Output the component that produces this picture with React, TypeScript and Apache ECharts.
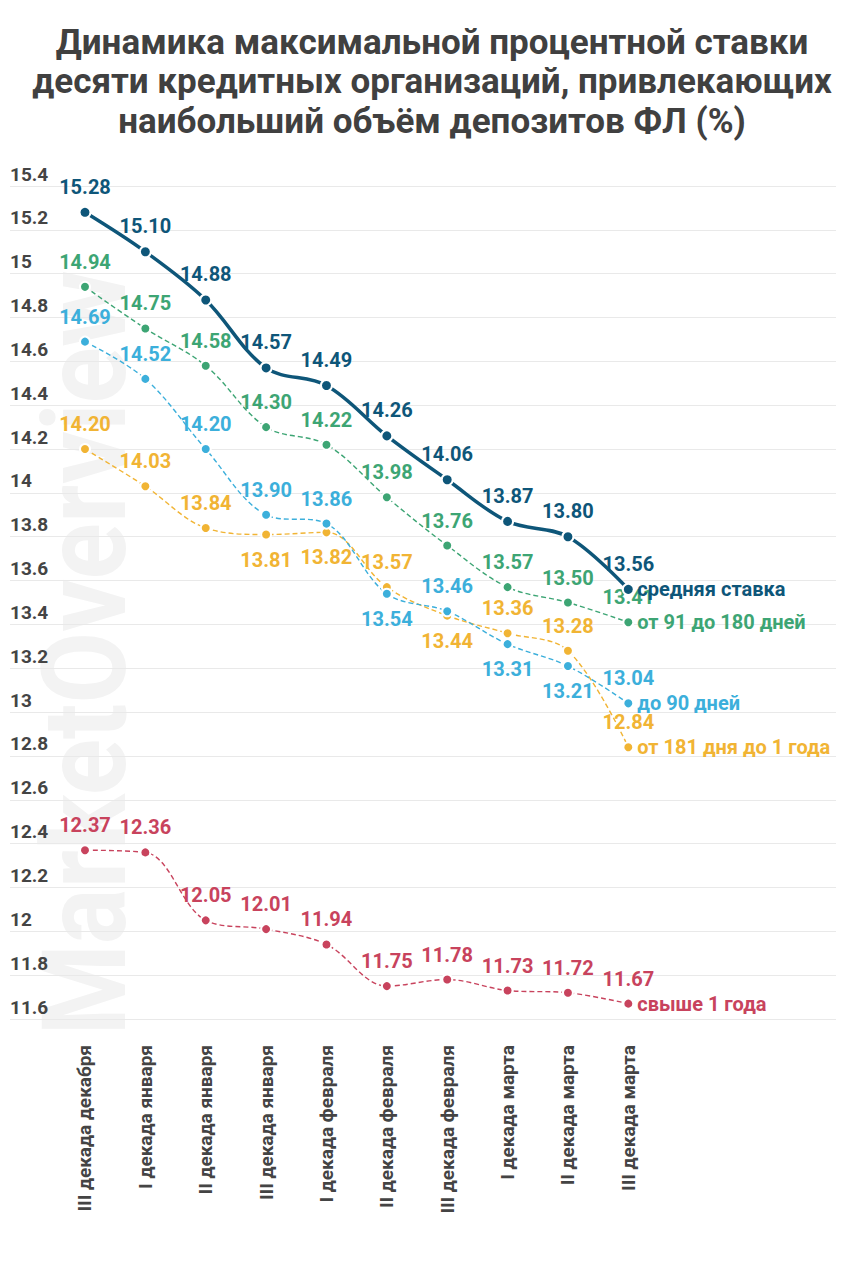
import React, { useEffect, useRef } from "react";
import * as echarts from "echarts";

const titleLines = [
  "Динамика максимальной процентной ставки",
  "десяти кредитных организаций, привлекающих",
  "наибольший объём депозитов ФЛ (%)",
];

const categories = [
  "III декада декабря",
  "I декада января",
  "II декада января",
  "III декада января",
  "I декада февраля",
  "II декада февраля",
  "III декада февраля",
  "I декада марта",
  "II декада марта",
  "III декада марта",
];

const avgRate = [15.28, 15.1, 14.88, 14.57, 14.49, 14.26, 14.06, 13.87, 13.8, 13.56];
const rate91to180 = [14.94, 14.75, 14.58, 14.3, 14.22, 13.98, 13.76, 13.57, 13.5, 13.41];
const rateTo90 = [14.69, 14.52, 14.2, 13.9, 13.86, 13.54, 13.46, 13.31, 13.21, 13.04];
const rate181to1y = [14.2, 14.03, 13.84, 13.81, 13.82, 13.57, 13.44, 13.36, 13.28, 12.84];
const rateOver1y = [12.37, 12.36, 12.05, 12.01, 11.94, 11.75, 11.78, 11.73, 11.72, 11.67];

const seriesNames = [
  "средняя ставка",
  "от 91 до 180 дней",
  "до 90 дней",
  "от 181 дня до 1 года",
  "свыше 1 года",
];

// label placement (indices whose value label sits below the point)
const belowTo90 = [5, 7, 8];
const below181 = [3, 4, 6];

const Y_MIN = 11.6;
const Y_MAX = 15.4;
const Y_STEP = 0.2;

const FONT = "Roboto, 'Noto Sans', sans-serif";

function makeSeries(
  name: string,
  data: number[],
  color: string,
  main: boolean,
  below: number[] = []
) {
  return {
    type: "line",
    name,
    xAxisIndex: 0,
    yAxisIndex: 0,
    data: data.map((v, i) =>
      below.includes(i) ? { value: v, label: { position: "bottom" } } : v
    ),
    smooth: 0.35,
    symbol: "circle",
    symbolSize: main ? 11 : 10,
    z: main ? 10 : 5,
    lineStyle: {
      color,
      width: main ? 3.5 : 1.4,
      type: main ? "solid" : [5, 3],
    },
    itemStyle: { color, borderColor: "#fff", borderWidth: 2 },
    label: {
      show: true,
      position: "top",
      distance: 9,
      color,
      fontFamily: FONT,
      fontWeight: "bold",
      fontSize: 20,
      formatter: (p: any) => Number(p.value).toFixed(2),
    },
    endLabel: {
      show: true,
      formatter: "{a}",
      color,
      fontFamily: FONT,
      fontWeight: "bold",
      fontSize: 20,
      distance: 9,
    },
    emphasis: { disabled: true },
  };
}

export default function App() {
  const ref = useRef<HTMLDivElement>(null);
  useEffect(() => {
    if (!ref.current) return;
    const chart = echarts.init(ref.current, null, { renderer: "svg" });
    const gridTop = 186;
    const gridBottom = 261;
    const option: any = {
      animation: false,
      backgroundColor: "#ffffff",
      graphic: [
        {
          type: "text",
          x: 86,
          y: 653,
          rotation: Math.PI / 2,
          scaleX: 0.9,
          z: -10,
          silent: true,
          style: {
            text: "MarketOverview",
            fill: "#f3f3f3",
            fontFamily: FONT,
            fontWeight: "bold",
            fontSize: 116,
            textAlign: "center",
            textVerticalAlign: "middle",
            align: "center",
            verticalAlign: "middle",
          },
        },
        ...titleLines.map((t, i) => ({
          type: "text",
          x: 432,
          y: 42 + i * 39.5,
          silent: true,
          style: {
            text: t,
            fill: "#404040",
            fontFamily: FONT,
            fontWeight: "bold",
            fontSize: 35,
            textAlign: "center",
            textVerticalAlign: "middle",
            align: "center",
            verticalAlign: "middle",
          },
        })),
      ],
      grid: [
        { left: 54.8, right: 205.5, top: gridTop, bottom: gridBottom },
        { left: 10, right: 28, top: gridTop, bottom: gridBottom },
      ],
      xAxis: [
        {
          type: "category",
          gridIndex: 0,
          data: categories,
          boundaryGap: true,
          axisLine: { show: false },
          axisTick: { show: false },
          splitLine: { show: false },
          axisLabel: {
            rotate: 90,
            margin: 26,
            interval: 0,
            color: "#444",
            fontFamily: FONT,
            fontWeight: "bold",
            fontSize: 19,
          },
        },
        {
          type: "value",
          gridIndex: 1,
          show: false,
          min: 0,
          max: 1,
        },
      ],
      yAxis: [
        {
          type: "value",
          gridIndex: 0,
          min: Y_MIN,
          max: Y_MAX,
          interval: Y_STEP,
          show: false,
          splitLine: { show: false },
        },
        {
          type: "value",
          gridIndex: 1,
          min: Y_MIN,
          max: Y_MAX,
          interval: Y_STEP,
          axisLine: { show: false },
          axisTick: { show: false },
          splitLine: { show: true, lineStyle: { color: "#e9e9e9", width: 1 } },
          axisLabel: {
            inside: true,
            margin: 0,
            verticalAlign: "bottom",
            lineHeight: 24,
            color: "#444",
            fontFamily: FONT,
            fontWeight: "bold",
            fontSize: 19,
            formatter: (v: number) => String(Number(v.toFixed(1))),
          },
        },
      ],
      series: [
        makeSeries(seriesNames[4], rateOver1y, "#c8435d", false),
        makeSeries(seriesNames[3], rate181to1y, "#f1b434", false, below181),
        makeSeries(seriesNames[2], rateTo90, "#3cafdb", false, belowTo90),
        makeSeries(seriesNames[1], rate91to180, "#3da574", false),
        makeSeries(seriesNames[0], avgRate, "#0e5679", true),
      ],
    };
    chart.setOption(option);
    return () => chart.dispose();
  }, []);
  return (
    <div
      ref={ref}
      style={{ position: "absolute", left: 0, top: 0, width: 864, height: 1280, background: "#fff" }}
    />
  );
}
